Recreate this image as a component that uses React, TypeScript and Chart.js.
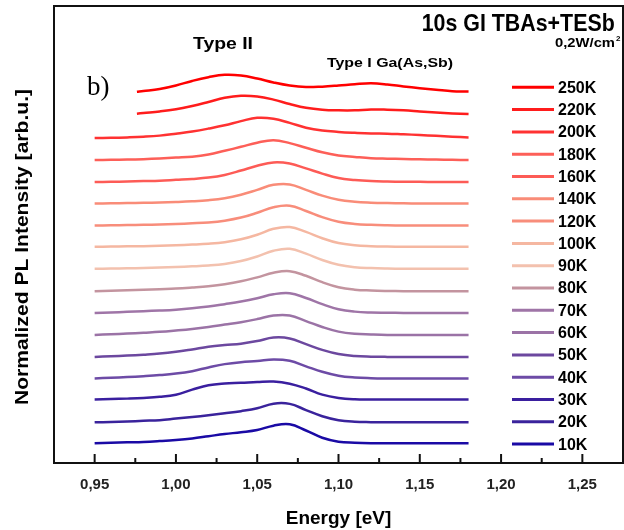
import React, { useEffect, useRef } from "react";
import { Chart, registerables } from "chart.js";

Chart.register(...registerables);

// Energy grid (eV)
const ENERGY = [0.95, 0.96, 0.97, 0.98, 0.99, 1.0, 1.01, 1.02, 1.03, 1.04, 1.05, 1.06, 1.07, 1.08, 1.09, 1.1, 1.11, 1.12, 1.13, 1.14, 1.15, 1.16, 1.17, 1.18];
// The two highest-temperature spectra start a little later (covered by the "b)" label)
const ENERGY_TOP = [0.976, 0.98, 0.99, 1.0, 1.01, 1.02, 1.03, 1.04, 1.05, 1.06, 1.07, 1.08, 1.09, 1.1, 1.11, 1.12, 1.13, 1.14, 1.15, 1.16, 1.17, 1.18];

const TEMPS = ["250K", "220K", "200K", "180K", "160K", "140K", "120K", "100K", "90K", "80K", "70K", "60K", "50K", "40K", "30K", "20K", "10K"];
const COLORS = ["#ff0000", "#ff1c1c", "#ff3232", "#fd5f58", "#fd5b56", "#f98c78", "#f88d7b", "#f5b7a1", "#f3c1ae", "#c3949f", "#9f75a7", "#9b73a6", "#6c489f", "#6d4ba6", "#3a1f9f", "#3a239c", "#1a0aa5"];
// Vertical offsets of the stacked spectra (arb.u.)
const OFFSETS = [16.0, 15.0, 13.89, 12.89, 11.89, 10.91, 9.91, 8.94, 7.94, 6.92, 5.93, 4.93, 3.93, 2.95, 1.99, 0.95, 0.0];

// Normalized PL intensity (arb.u.), relative to each baseline
const PL_250K = [0, 0.03, 0.12, 0.28, 0.49, 0.66, 0.77, 0.74, 0.6, 0.42, 0.28, 0.21, 0.23, 0.28, 0.34, 0.38, 0.33, 0.24, 0.16, 0.09, 0.02, 0.01];
const PL_220K = [0, 0.03, 0.1, 0.2, 0.35, 0.53, 0.72, 0.81, 0.78, 0.64, 0.44, 0.27, 0.18, 0.15, 0.15, 0.19, 0.18, 0.15, 0.1, 0.05, 0.01, -0.02];
const PL_200K = [0, 0.01, 0.03, 0.06, 0.11, 0.2, 0.3, 0.43, 0.58, 0.77, 0.92, 0.88, 0.69, 0.47, 0.34, 0.28, 0.24, 0.21, 0.2, 0.17, 0.14, 0.1, 0.06, 0.03];
const PL_180K = [0, 0.01, 0.02, 0.04, 0.07, 0.11, 0.15, 0.25, 0.42, 0.6, 0.79, 0.9, 0.77, 0.56, 0.35, 0.21, 0.14, 0.08, 0.06, 0.05, 0.03, 0.02, 0.01, 0];
const PL_160K = [0, 0.01, 0.02, 0.04, 0.06, 0.1, 0.14, 0.2, 0.32, 0.52, 0.74, 0.89, 0.84, 0.62, 0.38, 0.18, 0.09, 0.04, 0.02, 0.01, 0.01, 0, 0, 0];
const PL_140K = [0, 0.01, 0.02, 0.03, 0.05, 0.07, 0.1, 0.15, 0.24, 0.4, 0.62, 0.85, 0.87, 0.62, 0.36, 0.17, 0.08, 0.04, 0.02, 0.01, 0, 0, 0, 0];
const PL_120K = [0, 0.01, 0.02, 0.03, 0.05, 0.07, 0.1, 0.14, 0.22, 0.36, 0.58, 0.83, 0.9, 0.66, 0.38, 0.17, 0.07, 0.03, 0.01, 0, 0, 0, 0, 0];
const PL_100K = [0, 0.01, 0.02, 0.03, 0.05, 0.07, 0.1, 0.14, 0.21, 0.34, 0.55, 0.82, 0.9, 0.68, 0.39, 0.17, 0.07, 0.03, 0.01, 0, 0, 0, 0, 0];
const PL_90K = [0, 0.01, 0.02, 0.04, 0.06, 0.08, 0.11, 0.15, 0.22, 0.35, 0.56, 0.82, 0.91, 0.69, 0.4, 0.18, 0.07, 0.03, 0.01, 0, 0, 0, 0, 0];
const PL_80K = [0, 0.02, 0.04, 0.06, 0.09, 0.12, 0.17, 0.23, 0.32, 0.45, 0.63, 0.84, 0.91, 0.7, 0.41, 0.18, 0.07, 0.03, 0.01, 0, 0, 0, 0, 0];
const PL_70K = [0, 0.02, 0.05, 0.08, 0.11, 0.15, 0.21, 0.29, 0.4, 0.52, 0.67, 0.85, 0.9, 0.68, 0.4, 0.17, 0.06, 0.02, 0.01, 0, 0, 0, 0, 0];
const PL_60K = [0, 0.03, 0.06, 0.1, 0.14, 0.2, 0.27, 0.36, 0.47, 0.58, 0.72, 0.88, 0.88, 0.63, 0.36, 0.15, 0.05, 0.02, 0, 0, 0, 0, 0, 0];
const PL_50K = [0, 0.03, 0.06, 0.1, 0.15, 0.23, 0.34, 0.46, 0.54, 0.6, 0.72, 0.88, 0.84, 0.58, 0.32, 0.13, 0.04, 0.01, 0, 0, 0, 0, 0, 0];
const PL_40K = [0, 0.03, 0.06, 0.1, 0.15, 0.22, 0.33, 0.5, 0.65, 0.74, 0.79, 0.86, 0.8, 0.55, 0.3, 0.12, 0.04, 0.01, 0, 0, 0, 0, 0, 0];
const PL_30K = [0, 0.02, 0.04, 0.07, 0.12, 0.22, 0.45, 0.65, 0.73, 0.76, 0.8, 0.82, 0.72, 0.5, 0.22, 0.07, 0.01, 0, 0, 0, 0, 0, 0, 0];
const PL_20K = [0, 0.02, 0.04, 0.07, 0.1, 0.17, 0.24, 0.32, 0.41, 0.51, 0.64, 0.85, 0.84, 0.56, 0.28, 0.1, 0.03, 0.01, 0, 0, 0, 0, 0, 0];
const PL_10K = [0, 0.02, 0.04, 0.06, 0.1, 0.15, 0.22, 0.32, 0.42, 0.5, 0.6, 0.8, 0.86, 0.58, 0.25, 0.07, 0.02, 0, 0, 0, 0, 0, 0, 0];

const SERIES = [PL_250K, PL_220K, PL_200K, PL_180K, PL_160K, PL_140K, PL_120K, PL_100K, PL_90K, PL_80K, PL_70K, PL_60K, PL_50K, PL_40K, PL_30K, PL_20K, PL_10K];

const X_TICKS = [0.95, 1.0, 1.05, 1.1, 1.15, 1.2, 1.25];
const X_TICK_LABELS = ["0,95", "1,00", "1,05", "1,10", "1,15", "1,20", "1,25"];
const X_MINOR = [0.975, 1.025, 1.075, 1.125, 1.175, 1.225];

const SANS = "'Liberation Sans', Arial, sans-serif";

function drawScaledText(ctx: CanvasRenderingContext2D, text: string, x: number, y: number, font: string, width?: number, rotate = 0) {
  ctx.save();
  ctx.font = font;
  ctx.textAlign = "left";
  ctx.textBaseline = "alphabetic";
  const w = ctx.measureText(text).width;
  const sx = width ? width / w : 1;
  ctx.translate(x, y);
  if (rotate) ctx.rotate(rotate);
  ctx.scale(sx, 1);
  ctx.fillStyle = "#000";
  ctx.fillText(text, 0, 0);
  ctx.restore();
}

const decorPlugin = {
  id: "decor",
  afterDatasetsDraw(chart: any) {
    const ctx: CanvasRenderingContext2D = chart.ctx;
    const { left, right, top, bottom } = chart.chartArea;
    const xs = chart.scales.x;
    ctx.save();
    // frame
    ctx.strokeStyle = "#111";
    ctx.lineWidth = 2;
    ctx.strokeRect(left, top, right - left, bottom - top);
    // inward ticks
    X_TICKS.forEach((v) => {
      const px = xs.getPixelForValue(v);
      ctx.beginPath();
      ctx.moveTo(px, bottom);
      ctx.lineTo(px, bottom - 9);
      ctx.stroke();
    });
    X_MINOR.forEach((v) => {
      const px = xs.getPixelForValue(v);
      ctx.beginPath();
      ctx.moveTo(px, bottom);
      ctx.lineTo(px, bottom - 5);
      ctx.stroke();
    });
    // legend
    const legTop = 87.3;
    const legStep = 22.3;
    chart.data.datasets.forEach((ds: any, i: number) => {
      const y = legTop + i * legStep;
      ctx.strokeStyle = ds.borderColor;
      ctx.lineWidth = 3;
      ctx.beginPath();
      ctx.moveTo(512, y);
      ctx.lineTo(554, y);
      ctx.stroke();
      ctx.fillStyle = "#000";
      ctx.font = `bold 16px ${SANS}`;
      ctx.textBaseline = "middle";
      ctx.textAlign = "left";
      ctx.fillText(ds.label, 558, y + 1);
    });
    // annotations
    drawScaledText(ctx, "10s GI TBAs+TESb", 421.7, 30.7, `bold 24px ${SANS}`, 193);
    drawScaledText(ctx, "0,2W/cm", 555, 47, `bold 13px ${SANS}`, 60);
    drawScaledText(ctx, "2", 616, 41, `bold 8px ${SANS}`);
    drawScaledText(ctx, "Type II", 193, 49, `bold 17px ${SANS}`, 60);
    drawScaledText(ctx, "Type I Ga(As,Sb)", 327, 67, `bold 13px ${SANS}`, 126);
    drawScaledText(ctx, "b)", 87, 95, `27px 'Liberation Serif', 'Times New Roman', serif`);
    // y axis title (rotated)
    drawScaledText(ctx, "Normalized PL Intensity [arb.u.]", 27.5, 405, `bold 19px ${SANS}`, 316, -Math.PI / 2);
    ctx.restore();
  },
};

export default function App() {
  const ref = useRef<HTMLCanvasElement>(null);
  useEffect(() => {
    document.body.style.margin = "0";
    const canvas = ref.current!;
    const datasets = SERIES.map((vals, i) => {
      const xs = vals.length === ENERGY_TOP.length ? ENERGY_TOP : ENERGY;
      return {
        label: TEMPS[i],
        data: vals.map((v, j) => ({ x: xs[j], y: OFFSETS[i] + v })),
        borderColor: COLORS[i],
        backgroundColor: COLORS[i],
        borderWidth: 2.5,
        pointRadius: 0,
        tension: 0.4,
        fill: false,
      };
    });
    const chart = new Chart(canvas, {
      type: "line",
      data: { datasets } as any,
      options: {
        animation: false,
        responsive: false,
        layout: { padding: { top: 6, right: 1, left: 0, bottom: 0 } },
        plugins: { legend: { display: false }, tooltip: { enabled: false }, title: { display: false } },
        scales: {
          x: {
            type: "linear",
            min: 0.925,
            max: 1.275,
            grid: { display: false, drawTicks: false },
            border: { display: false },
            afterBuildTicks: (s: any) => {
              s.ticks = X_TICKS.map((v) => ({ value: v }));
            },
            afterFit: (s: any) => {
              s.height = 67;
            },
            ticks: {
              padding: 13,
              color: "#222",
              font: { family: SANS, size: 15, weight: "bold" },
              callback: (v: any) => {
                const idx = X_TICKS.findIndex((t) => Math.abs(t - Number(v)) < 1e-6);
                return idx >= 0 ? X_TICK_LABELS[idx] : "";
              },
              maxRotation: 0,
              autoSkip: false,
            },
            title: {
              display: true,
              text: "Energy [eV]",
              color: "#000",
              font: { family: SANS, size: 19, weight: "bold" },
              padding: { top: 0, bottom: 0 },
            },
          },
          y: {
            type: "linear",
            min: -0.9,
            max: 19.9,
            grid: { display: false, drawTicks: false },
            border: { display: false },
            ticks: { display: false },
            afterFit: (s: any) => {
              s.width = 54;
            },
            title: { display: false },
          },
        },
      } as any,
      plugins: [decorPlugin],
    });
    return () => chart.destroy();
  }, []);
  return (
    <div style={{ width: 624, height: 530 }}>
      <canvas ref={ref} width={624} height={530} style={{ display: "block" }} />
    </div>
  );
}
